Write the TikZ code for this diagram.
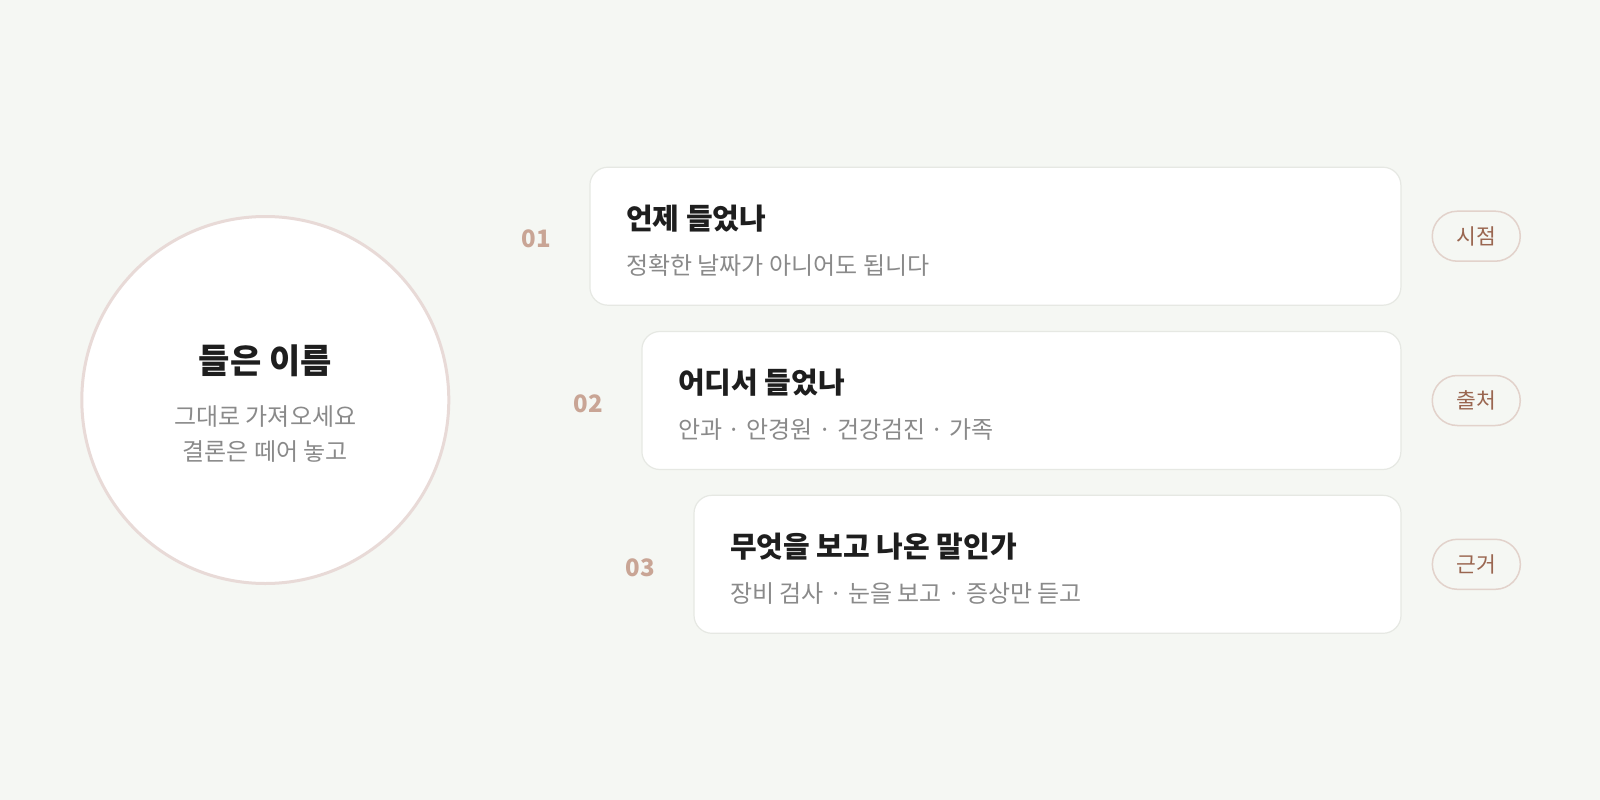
\documentclass[tikz,border=0pt]{standalone}
\usepackage{fontspec}
\setmainfont{Noto Sans CJK KR}
\usepackage{tikz}
\usetikzlibrary{positioning}

\definecolor{bgpaper}{HTML}{F5F7F3}
\definecolor{ringline}{HTML}{E8DAD7}
\definecolor{cardline}{HTML}{E6E8E3}
\definecolor{inkdark}{HTML}{1E1E1E}
\definecolor{inkgray}{HTML}{8A8A8A}
\definecolor{numtan}{HTML}{C9A595}
\definecolor{tagbrown}{HTML}{9A6650}
\definecolor{tagline}{HTML}{E2D2CB}

\begin{document}
\begin{tikzpicture}[x=1pt,y=-1pt,
    card/.style={draw=cardline, line width=1.2pt, fill=white, rounded corners=18pt,
      minimum height=138pt, inner sep=0pt},
    cardtitle/.style={anchor=west, inner sep=0pt, text=inkdark,
      font=\fontsize{29}{33}\selectfont\bfseries},
    cardnote/.style={anchor=west, inner sep=0pt, text=inkgray,
      font=\fontsize{24}{28}\selectfont},
    stepnum/.style={inner sep=0pt, yshift=-3pt, text=numtan, font=\fontsize{24}{28}\selectfont\bfseries},
    tag/.style={draw=tagline, line width=1.5pt, fill=bgpaper, rounded corners=25pt,
      minimum width=88pt, minimum height=50pt, inner sep=0pt, text=tagbrown,
      font=\fontsize{21.5}{25}\selectfont}]
  \useasboundingbox[fill=bgpaper] (0,0) rectangle (1600,800);

  % Name circle
  \node[circle, draw=ringline, line width=3pt, fill=white, minimum size=367pt] (ring) at (265.3,400) {};
  \node[inner sep=0pt, text=inkdark, font=\fontsize{34}{38}\selectfont\bfseries] (ringtitle) at (265.3,361) {들은 이름};
  \node[inner sep=0pt, text=inkgray, align=center, font=\fontsize{24}{35.7}\selectfont] (ringnote) at (265.3,434)
    {그대로 가져오세요\\결론은 떼어 놓고};

  % Cards
  \node[card, minimum width=811pt] (card1) at (995.4,236.2) {};
  \node[card, minimum width=759pt] (card2) at (1021.4,400.5) {};
  \node[card, minimum width=707pt] (card3) at (1047.5,564.3) {};

  % Card texts
  \node[cardtitle] (title1) at ([xshift=36.7pt,yshift=18pt]card1.west) {언제 들었나};
  \node[cardnote] (note1) at ([xshift=36.7pt,yshift=-29pt]card1.west) {정확한 날짜가 아니어도 됩니다};
  \node[cardtitle] (title2) at ([xshift=36.7pt,yshift=18pt]card2.west) {어디서 들었나};
  \node[cardnote] (note2) at ([xshift=36.7pt,yshift=-29pt]card2.west) {안과 · 안경원 · 건강검진 · 가족};
  \node[cardtitle] (title3) at ([xshift=36.7pt,yshift=18pt]card3.west) {무엇을 보고 나온 말인가};
  \node[cardnote] (note3) at ([xshift=36.7pt,yshift=-29pt]card3.west) {장비 검사 · 눈을 보고 · 증상만 듣고};

  % Step numbers
  \node[stepnum, left=38pt of card1] (num1) {01};
  \node[stepnum, left=38pt of card2] (num2) {02};
  \node[stepnum, left=38pt of card3] (num3) {03};

  % Tags
  \node[tag, right=30pt of card1] (tag1) {시점};
  \node[tag, right=30pt of card2] (tag2) {출처};
  \node[tag, right=30pt of card3] (tag3) {근거};
\end{tikzpicture}
\end{document}
